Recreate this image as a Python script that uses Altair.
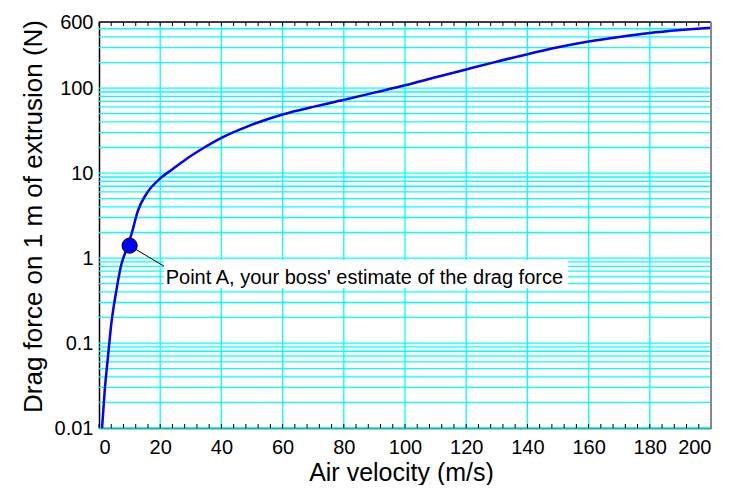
import altair as alt
import pandas as pd

# Curve data
velocity = [1.0, 1.85, 2.9, 4.0, 5.65, 7.3, 8.7, 10.6, 12.7, 15.5, 19.9, 24, 28, 33.6,
            40, 49, 60, 71, 81.5, 90, 100, 110, 120, 130, 140, 150, 160, 170, 180, 190, 200]
force = [0.01, 0.027, 0.067, 0.166, 0.41, 0.84, 1.19, 1.9, 3.6, 5.7, 8.6, 11.1, 14.2, 19.2,
         26, 36, 49, 61.4, 74.8, 88.5, 108, 134, 166, 205, 251, 302, 353, 400, 445, 482, 515]

point_v = [10]
point_f = [1.4]
label_text = ["Point A, your boss' estimate of the drag force"]

x_ticks_major = [0, 20, 40, 60, 80, 100, 120, 140, 160, 180, 200]
x_ticks_minor = list(range(0, 201, 4))
y_tick_labels = [0.01, 0.1, 1, 10, 100, 600]
y_grid = [round(m * d, 4) for d in [0.01, 0.1, 1, 10] for m in range(1, 10)] + [100, 200, 300, 400, 500]

W, H = 612, 406
XMIN, XMAX = 0, 200
YMIN, YMAX = 0.01, 600

curve_df = pd.DataFrame({"v": velocity, "f": force})
point_df = pd.DataFrame({"v": point_v, "f": point_f})

xscale = alt.Scale(domain=[XMIN, XMAX], nice=False, zero=False)
yscale = alt.Scale(type="log", domain=[YMIN, YMAX], nice=False)

GRID = "#00ffff"
FONT = "Liberation Sans"

x_axis = alt.Axis(values=x_ticks_major, format="d", grid=False, ticks=False,
                  domainColor="black", domainWidth=1.5, labelFontSize=20,
                  labelFont=FONT, labelColor="black", labelPadding=9,
                  title="Air velocity (m/s)", titleFontSize=25, titleFont=FONT,
                  titleFontWeight="normal", titleColor="black", titlePadding=3,
                  titleX=302)
y_axis = alt.Axis(values=y_tick_labels, format="~g", grid=False, ticks=False,
                  domainColor="black", domainWidth=1.5, labelFontSize=20,
                  labelFont=FONT, labelColor="black", labelPadding=6,
                  title="Drag force on 1 m of extrusion (N)", titleFontSize=26,
                  titleFont=FONT, titleFontWeight="normal", titleColor="black",
                  titlePadding=8, titleY=194)

ygrid = alt.Chart(pd.DataFrame({"f": y_grid})).mark_rule(color=GRID, strokeWidth=1.3).encode(
    y=alt.Y("f:Q", scale=yscale, axis=y_axis)
)
xgrid = alt.Chart(pd.DataFrame({"v": x_ticks_major[1:-1]})).mark_rule(color=GRID, strokeWidth=1.3).encode(
    x=alt.X("v:Q", scale=xscale, axis=x_axis)
)

tick_df = pd.DataFrame({"v": x_ticks_minor})
ticks_bottom = alt.Chart(tick_df).mark_rule(color="black", strokeWidth=1).encode(
    x=alt.X("v:Q", scale=xscale), y=alt.value(H), y2=alt.value(H - 4)
)
ticks_top = alt.Chart(tick_df).mark_rule(color="black", strokeWidth=1).encode(
    x=alt.X("v:Q", scale=xscale), y=alt.value(0), y2=alt.value(4)
)
top_line = alt.Chart(pd.DataFrame({"a": [0]})).mark_rule(color="black", strokeWidth=1.5).encode(
    x=alt.value(0), x2=alt.value(W), y=alt.value(0)
)
right_line = alt.Chart(pd.DataFrame({"a": [0]})).mark_rule(color="#888888", strokeWidth=2).encode(
    x=alt.value(W), y=alt.value(0), y2=alt.value(H)
)

curve = alt.Chart(curve_df).mark_line(color="#0000ff", strokeWidth=2.5, interpolate="monotone").encode(
    x=alt.X("v:Q", scale=xscale), y=alt.Y("f:Q", scale=yscale)
)

# annotation
ann = pd.DataFrame({"v": point_v, "f": point_f, "v2": [21.3], "f2": [0.8],
                    "bx": [21.2], "bx2": [153.3], "by": [0.95], "by2": [0.445],
                    "tv": [21.8], "tf": [0.494], "t": label_text})
leader = alt.Chart(ann).mark_rule(color="black", strokeWidth=1).encode(
    x=alt.X("v:Q", scale=xscale), y=alt.Y("f:Q", scale=yscale), x2="v2:Q", y2="f2:Q"
)
box = alt.Chart(ann).mark_rect(color="white").encode(
    x=alt.X("bx:Q", scale=xscale), x2="bx2:Q", y=alt.Y("by:Q", scale=yscale), y2="by2:Q"
)
text = alt.Chart(ann).mark_text(align="left", baseline="alphabetic", fontSize=20,
                                font=FONT, color="black").encode(
    x=alt.X("tv:Q", scale=xscale), y=alt.Y("tf:Q", scale=yscale), text="t:N"
)
point = alt.Chart(point_df).mark_point(shape="circle", filled=True, size=230, color="#0000ff",
                                        stroke="black", strokeWidth=1, opacity=1).encode(
    x=alt.X("v:Q", scale=xscale), y=alt.Y("f:Q", scale=yscale)
)

chart = alt.layer(
    ygrid, xgrid, ticks_bottom, ticks_top, curve, leader, box, text, point, top_line, right_line
).properties(
    width=W, height=H,
    padding={"left": 12, "top": 4, "right": 5, "bottom": 0}
).configure_view(stroke=None).configure(background="white")

chart.save("out.html", embed_options={"renderer": "svg", "actions": False})
